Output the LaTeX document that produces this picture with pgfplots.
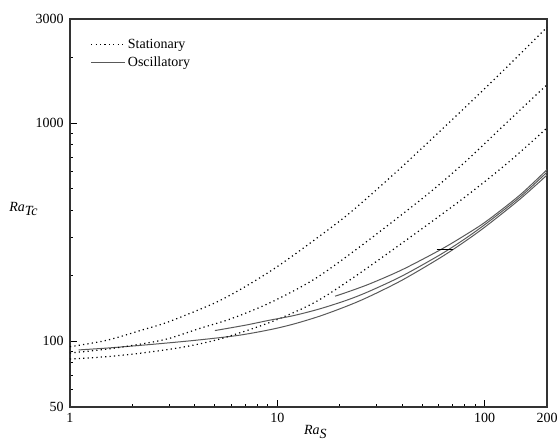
\documentclass[border=0pt]{standalone}
\usepackage{fontspec}
\setmainfont{Liberation Serif}
\usepackage{pgfplots}
\pgfplotsset{compat=1.18}
\begin{document}
\fontsize{10.5}{12.5}\selectfont
\begin{tikzpicture}
\begin{axis}[
  xmode=log, ymode=log,
  scale only axis,
  width=357.75pt, height=291pt,
  xmin=1, xmax=200, ymin=50, ymax=3000,
  xtick={1,10,100,200}, xticklabels={1,10,100,200},
  ytick={50,100,1000,3000}, yticklabels={50,100,1000,3000},
  minor xtick={2,3,4,5,6,7,8,9,20,30,40,50,60,70,80,90},
  minor ytick={60,70,80,90,200,300,400,500,600,700,800,900,2000},
  xtick pos=bottom, ytick pos=left,
  tick align=inside,
  major tick length=5pt, minor tick length=2.5pt,
  tick style={black, line width=0.6pt},
  axis line style={black!80, line width=0.9pt},
  ticklabel style={font=\fontsize{10.5}{12}\selectfont},
  xticklabel style={yshift=-1pt},
  yticklabel style={xshift=-1pt},
  xlabel={\textit{Ra}$_{\textit{S}}$},
  xlabel style={at={(axis description cs:0.515,-0.035)}, anchor=north},
  ylabel={\textit{Ra}$_{\textit{Tc}}$},
  ylabel style={rotate=-90, at={(axis description cs:-0.056,0.51)}, anchor=east},
  legend style={draw=none, fill=none, at={(axis description cs:0.04,0.96)}, anchor=north west,
    font=\fontsize{10.5}{12}\selectfont, row sep=0.8pt, inner sep=1pt},
  legend cell align=left,
  legend image code/.code={\draw[#1] (0cm,0cm) -- (0.88cm,0cm);},
]
% Stationary (dotted)
\addplot[black, line width=0.9pt, dash pattern=on 0.9pt off 2.4pt, smooth] coordinates {
 (1,94.5) (1.5,101) (2.25,113) (3,123) (5,150) (7,178) (10,220) (15,290) (22.4,388) (37.7,600) (70,1040) (120,1700) (200,2750)};
\addlegendentry{Stationary}
\addplot[gray!70!black, line width=0.75pt, smooth] coordinates {
 (1.1,91.3) (1.6,93.5) (2.7,97.5) (4.2,101.5) (6.5,106.5) (9.2,113) (12,120) (16.1,130.6) (22,145.8) (28,161) (40,190.7) (60.9,241) (80,286) (102,338) (148,448) (200,578)};
\addlegendentry{Oscillatory}
\addplot[black, line width=0.9pt, dash pattern=on 0.9pt off 2.4pt, smooth, forget plot] coordinates {
 (1,88.4) (1.5,92) (2.25,97.5) (3,103) (4.24,114.7) (6,127) (9.2,150) (15,192) (24.6,268) (50.6,455) (80,660) (125,985) (200,1500)};
\addplot[black, line width=0.9pt, dash pattern=on 0.9pt off 2.4pt, smooth, forget plot] coordinates {
 (1,83) (1.5,85) (2.25,88.5) (3.5,94) (5.29,102.5) (9.2,122) (15,150) (23.3,196) (42.1,292) (78.9,452) (130,660) (200,950)};
% Oscillatory (solid)
\addplot[gray!70!black, line width=0.75pt, smooth, forget plot] coordinates {
 (5.0,112) (7,118.5) (9.2,125) (12,131.2) (16.1,141) (22,155.2) (28,170.1) (40,199.3) (60.9,249) (80,294) (102,347) (148,458) (200,596)};
\addplot[gray!70!black, line width=0.75pt, smooth, forget plot] coordinates {
 (19,161) (22,168.7) (28,183.6) (40,212.8) (60.9,262) (80,305.5) (102,355) (148,468) (200,612)};
\addplot[black, line width=0.9pt, forget plot] coordinates {(58.7,264) (70.7,264)};
\end{axis}
\pgfresetboundingbox
\path ([shift={(-52.5pt,-28.5pt)}]current axis.south west) rectangle ([shift={(9.75pt,14.25pt)}]current axis.north east);
\end{tikzpicture}
\end{document}
